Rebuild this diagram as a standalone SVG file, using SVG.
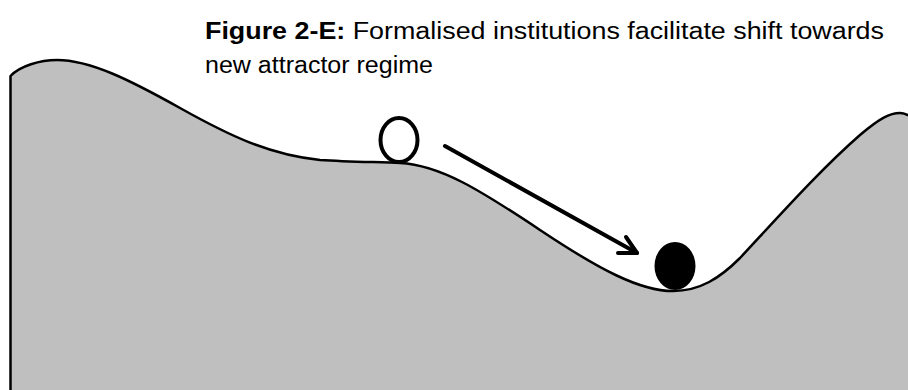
<svg xmlns="http://www.w3.org/2000/svg" width="908" height="390" viewBox="0 0 908 390">
<style>
.land{fill:#bfbfbf;stroke:#000;stroke-width:2.5;stroke-linejoin:round}
.t{font-family:"Liberation Sans",Arial,sans-serif;font-size:23px;fill:#000}
.b{font-weight:bold}
.arr{fill:none;stroke:#000;stroke-width:4;stroke-linecap:round;stroke-linejoin:round}
</style>
<g id="landscape">
<path class="land" d="M10.5,392 L10.5,76 C20,66 40,60 57,60 C90,60 130,80 180,108 C230,136 270,155 320,160 C350,162 380,162 400,163 C440,165 480,190 540,230 C600,270 640,291 673,291 C700,291 720,278 740,258 C780,215 820,170 860,135 C880,118 890,113 900,113 C904,113 906,114 910,116 L910,392 Z"/>
</g>
<g id="ball-start">
<ellipse cx="399" cy="140" rx="18.5" ry="22" fill="#fff" stroke="#000" stroke-width="4"/>
</g>
<g id="ball-end">
<ellipse cx="675" cy="266" rx="20.5" ry="24" fill="#000"/>
</g>
<g id="connectors">
<line class="arr" x1="445" y1="146" x2="637" y2="253"/>
<polyline class="arr" points="626,237 637,253 618,253"/>
</g>
<g id="caption">
<text class="t" x="205" y="39" textLength="679" lengthAdjust="spacingAndGlyphs"><tspan class="b">Figure 2-E:</tspan> Formalised institutions facilitate shift towards</text>
<text class="t" x="205" y="73" textLength="228" lengthAdjust="spacingAndGlyphs">new attractor regime</text>
</g>
</svg>
